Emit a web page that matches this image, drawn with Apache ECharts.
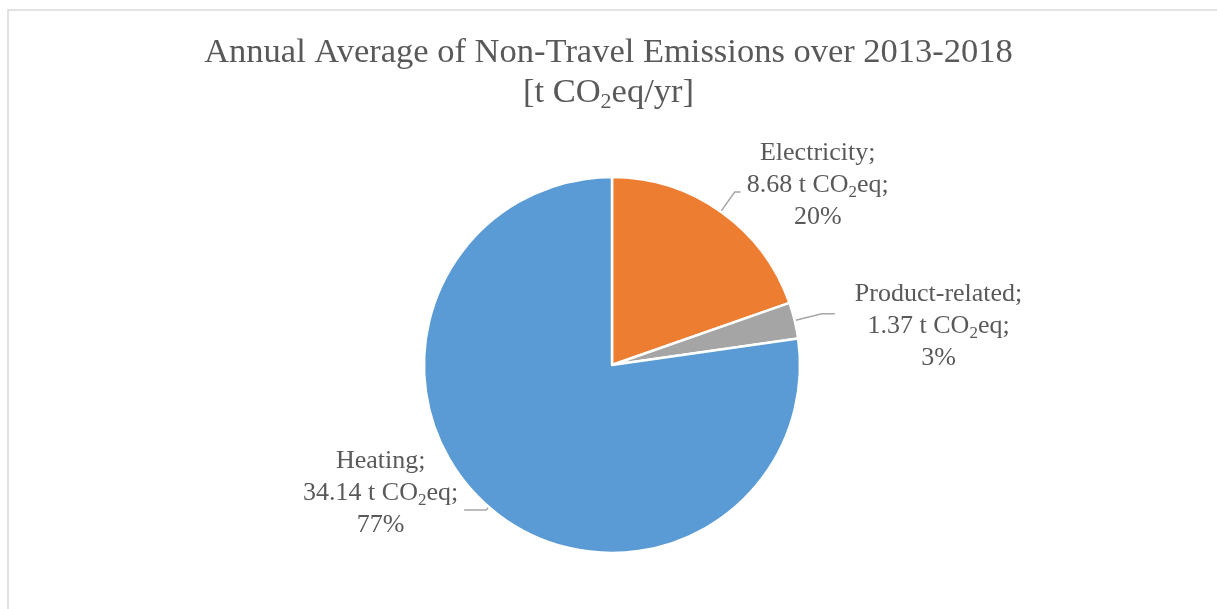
<!DOCTYPE html>
<html>
<head>
<meta charset="utf-8">
<script src="https://cdn.jsdelivr.net/npm/echarts@6/dist/echarts.min.js"></script>
<style>
  html, body { margin: 0; padding: 0; background: #ffffff; }
  #chart { width: 1217px; height: 609px; }
</style>
</head>
<body>
<div id="chart"></div>
<script>
// Emission sources and their annual averages (t CO2eq/yr)
const categories = ['Electricity', 'Product-related', 'Heating'];
const emissions = [8.68, 1.37, 34.14];
const colors = ['#ED7D31', '#A5A5A5', '#5B9BD5'];

// Per-slice leader-line and label placement
const labelStyle = {
  'Electricity':     { length: 24, length2: 6,  distance: 6,  padding: [0, 0, 14, 0] },
  'Product-related': { length: 28, length2: 13, distance: 20, padding: [24, 0, 0, 0] },
  'Heating':         { length: 4,  length2: 22, distance: 6,  padding: [0, 0, 34, 0] }
};

const FONT = "'Liberation Serif', 'Times New Roman', serif";
const TEXT = '#595959';

const data = categories.map((name, i) => {
  const s = labelStyle[name];
  return {
    name: name,
    value: emissions[i],
    itemStyle: { color: colors[i] },
    label: { padding: s.padding, distanceToLabelLine: s.distance },
    labelLine: { length: s.length, length2: s.length2 }
  };
});

const chart = echarts.init(document.getElementById('chart'), null, { renderer: 'canvas' });

chart.setOption({
  backgroundColor: '#ffffff',
  animation: false,
  graphic: [{
    type: 'rect',
    shape: { x: 8, y: 10, width: 1230, height: 620 },
    style: { fill: 'none', stroke: '#d9d9d9', lineWidth: 1.5 },
    silent: true
  }],
  title: {
    text: '{a|Annual Average of Non-Travel Emissions over 2013-2018}\n{a|[t CO}{s|2}{a|eq/yr]}',
    left: 'center',
    top: 33,
    padding: [0, 0, 0, 7],
    textStyle: {
      fontWeight: 'normal',
      rich: {
        a: { fontFamily: FONT, fontSize: 34.5, fontWeight: 'normal', color: TEXT, lineHeight: 40, align: 'center' },
        s: { fontFamily: FONT, fontSize: 22, fontWeight: 'normal', color: TEXT, lineHeight: 22, verticalAlign: 'bottom', align: 'center' }
      }
    }
  },
  series: [{
    type: 'pie',
    center: [612, 365],
    radius: 188,
    startAngle: 90,
    clockwise: true,
    percentPrecision: 0,
    itemStyle: { borderColor: '#ffffff', borderWidth: 2.5 },
    label: {
      show: true,
      position: 'outside',
      alignTo: 'none',
      formatter: p => '{t|' + p.name + ';}\n{t|' + p.value.toFixed(2) + ' t CO}{s|2}{t|eq;}\n{t|' + p.percent + '%}',
      rich: {
        t: { fontFamily: FONT, fontSize: 26, color: TEXT, lineHeight: 32, align: 'center' },
        s: { fontFamily: FONT, fontSize: 17, color: TEXT, lineHeight: 18, verticalAlign: 'bottom', align: 'center' }
      }
    },
    labelLine: {
      show: true,
      smooth: false,
      lineStyle: { color: '#A6A6A6', width: 1.5 }
    },
    emphasis: { disabled: true },
    data: data
  }]
});
</script>
</body>
</html>
